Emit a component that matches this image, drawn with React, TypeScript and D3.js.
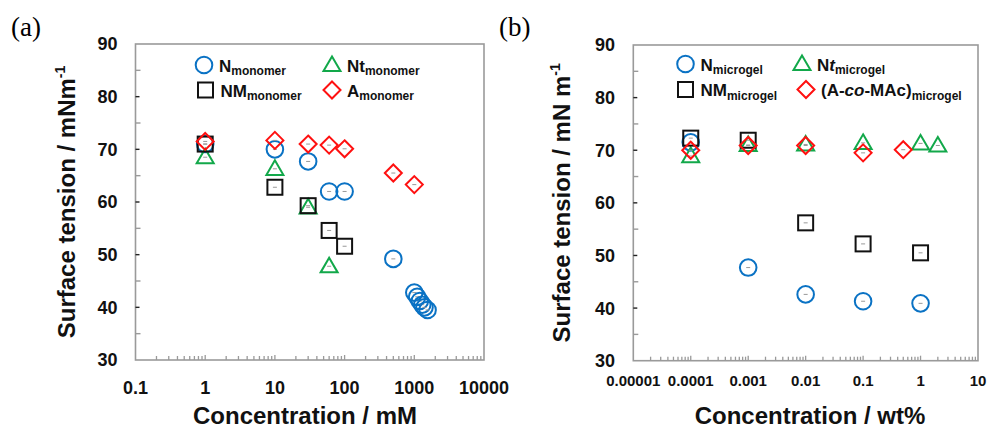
import React from "react";
import * as d3 from "d3";

// ---- panel (a) data: concentration in mM, surface tension in mN/m ----
const nMonoConc = [1, 10, 30, 60, 100, 500, 1000, 1100, 1200, 1300, 1400, 1550];
const nMonoST = [71.0, 70.0, 67.7, 62.0, 62.0, 49.2, 42.8, 42.0, 41.2, 40.5, 40.0, 39.5];
const ntMonoConc = [1, 10, 30, 60];
const ntMonoST = [68.5, 66.3, 59.0, 47.8];
const nmMonoConc = [1, 10, 30, 60, 100];
const nmMonoST = [71.0, 62.8, 59.3, 54.6, 51.6];
const aMonoConc = [1, 10, 30, 60, 100, 500, 1000];
const aMonoST = [71.5, 71.7, 71.0, 70.8, 70.1, 65.5, 63.3];

// ---- panel (b) data: concentration in wt%, surface tension in mN/m ----
const nGelConc = [0.0001, 0.001, 0.01, 0.1, 1];
const nGelST = [71.5, 47.7, 42.6, 41.3, 40.9];
const ntGelConc = [0.0001, 0.001, 0.01, 0.1, 1, 2];
const ntGelST = [68.9, 71.0, 71.1, 71.4, 71.3, 70.9];
const nmGelConc = [0.0001, 0.001, 0.01, 0.1, 1];
const nmGelST = [72.3, 71.9, 56.2, 52.2, 50.5];
const acoGelConc = [0.0001, 0.001, 0.01, 0.1, 0.5];
const acoGelST = [70.0, 70.9, 70.9, 69.5, 70.1];

const yTicks = [30, 40, 50, 60, 70, 80, 90];
const xTicksA = [0.1, 1, 10, 100, 1000, 10000];
const xLabelsA = ["0.1", "1", "10", "100", "1000", "10000"];
const xTicksB = [0.00001, 0.0001, 0.001, 0.01, 0.1, 1, 10];
const xLabelsB = ["0.00001", "0.0001", "0.001", "0.01", "0.1", "1", "10"];

const BLUE = "#0a72c4";
const GREEN = "#12a84a";
const RED = "#ff1010";
const BLACK = "#111";
const AXIS = "#9a9a9a";
const FONT = "'Liberation Sans', Arial, sans-serif";

type Shape = "circle" | "triangle" | "square" | "diamond";

const Marker = ({ shape, x, y, color }: { shape: Shape; x: number; y: number; color: string }) => {
  const sw = 2;
  if (shape === "circle")
    return <circle cx={x} cy={y} r={8.3} fill="none" stroke={color} strokeWidth={sw} />;
  if (shape === "square")
    return <rect x={x - 7.5} y={y - 7.5} width={15} height={15} fill="none" stroke={color} strokeWidth={sw} />;
  if (shape === "diamond") {
    const h = 8.5;
    return (
      <path d={`M${x},${y - h}L${x + h},${y}L${x},${y + h}L${x - h},${y}Z`} fill="none" stroke={color} strokeWidth={sw} />
    );
  }
  const s = 8.5;
  return (
    <path
      d={`M${x},${y - s}L${x + s},${y + s * 0.72}L${x - s},${y + s * 0.72}Z`}
      fill="none"
      stroke={color}
      strokeWidth={sw}
    />
  );
};

type Series = { conc: number[]; st: number[]; shape: Shape; color: string };

type LegendItem = { shape: Shape; color: string; x: number; y: number; label: React.ReactNode };

const Panel = ({
  tag,
  tagX,
  left,
  right,
  top,
  bottom,
  xDomain,
  xTicks,
  xLabels,
  xTickFont,
  xTickY,
  xTitle,
  xTitleX,
  yTitleX,
  yTitleUnit,
  yLabelX,
  series,
  legend,
}: {
  tag: string;
  tagX: number;
  left: number;
  right: number;
  top: number;
  bottom: number;
  xDomain: [number, number];
  xTicks: number[];
  xLabels: string[];
  xTickFont: number;
  xTickY: number;
  xTitle: string;
  xTitleX: number;
  yTitleX: number;
  yTitleUnit: string;
  yLabelX: number;
  series: Series[];
  legend: LegendItem[];
}) => {
  const x = d3.scaleLog().domain(xDomain).range([left, right]);
  const y = d3.scaleLinear().domain([30, 90]).range([bottom, top]);

  // minor log ticks 2..9 in every decade
  const minorX: number[] = [];
  for (let i = 0; i < xTicks.length - 1; i++) {
    for (let k = 2; k <= 9; k++) minorX.push(xTicks[i] * k);
  }
  const minorY = d3.range(35, 90, 10);

  return (
    <g>
      <text x={tagX} y={36} fontFamily="'Liberation Serif', serif" fontSize={27}>
        {tag}
      </text>
      {/* frame */}
      <rect x={left} y={top} width={right - left} height={bottom - top} fill="none" stroke={AXIS} strokeWidth={1.6} />
      {/* y ticks */}
      {yTicks.slice(1, -1).map((t) => (
        <line key={"ym" + t} x1={left} x2={left + 4} y1={y(t)} y2={y(t)} stroke="#222" strokeWidth={1.4} />
      ))}
      {minorY.map((t) => (
        <line key={"yn" + t} x1={left} x2={left + 5} y1={y(t)} y2={y(t)} stroke={AXIS} strokeWidth={1.4} />
      ))}
      {yTicks.map((t) => (
        <text
          key={"yl" + t}
          x={yLabelX}
          y={y(t)}
          dy="0.36em"
          textAnchor="end"
          fontFamily={FONT}
          fontWeight="bold"
          fontSize={18}
          fill="#111"
        >
          {t}
        </text>
      ))}
      {/* x ticks */}
      {minorX.map((t, i) => (
        <line key={"xn" + i} x1={x(t)} x2={x(t)} y1={bottom} y2={bottom - 4} stroke={AXIS} strokeWidth={1.3} />
      ))}
      {xTicks.slice(1, -1).map((t) => (
        <line key={"xm" + t} x1={x(t)} x2={x(t)} y1={bottom} y2={bottom - 5} stroke={AXIS} strokeWidth={1.3} />
      ))}
      {xTicks.map((t, i) => (
        <text
          key={"xl" + i}
          x={x(t)}
          y={xTickY}
          textAnchor="middle"
          fontFamily={FONT}
          fontWeight="bold"
          fontSize={xTickFont}
          fill="#111"
        >
          {xLabels[i]}
        </text>
      ))}
      {/* titles */}
      <text x={xTitleX} y={424} textAnchor="middle" fontFamily={FONT} fontWeight="bold" fontSize={24} fill="#111">
        {xTitle}
      </text>
      <text
        transform={`translate(${yTitleX},${(top + bottom) / 2}) rotate(-90)`}
        textAnchor="middle"
        fontFamily={FONT}
        fontWeight="bold"
        fontSize={24}
        fill="#111"
      >
        {"Surface tension / " + yTitleUnit}
        <tspan fontSize={14} dy={-10}>
          -1
        </tspan>
      </text>
      {/* data */}
      {series.map((s, si) =>
        s.conc.map((c, i) => (
          <g key={si + "-" + i}>
            <Marker shape={s.shape} x={x(c)} y={y(s.st[i])} color={s.color} />
            <line x1={x(c) - 2} x2={x(c) + 2} y1={y(s.st[i])} y2={y(s.st[i])} stroke="#999" strokeWidth={1} />
          </g>
        ))
      )}
      {/* legend */}
      {legend.map((l, i) => (
        <g key={"lg" + i}>
          <Marker shape={l.shape} x={l.x} y={l.y} color={l.color} />
          <text x={l.x + 15} y={l.y + 6.5} fontFamily={FONT} fontWeight="bold" fontSize={17} fill="#111">
            {l.label}
          </text>
        </g>
      ))}
    </g>
  );
};

const Sub = ({ children }: { children: React.ReactNode }) => (
  <tspan fontSize={12} dy={3.5}>
    {children}
  </tspan>
);

export default function App() {
  const seriesA: Series[] = [
    { conc: nMonoConc, st: nMonoST, shape: "circle", color: BLUE },
    { conc: ntMonoConc, st: ntMonoST, shape: "triangle", color: GREEN },
    { conc: nmMonoConc, st: nmMonoST, shape: "square", color: BLACK },
    { conc: aMonoConc, st: aMonoST, shape: "diamond", color: RED },
  ];
  const seriesB: Series[] = [
    { conc: nGelConc, st: nGelST, shape: "circle", color: BLUE },
    { conc: ntGelConc, st: ntGelST, shape: "triangle", color: GREEN },
    { conc: nmGelConc, st: nmGelST, shape: "square", color: BLACK },
    { conc: acoGelConc, st: acoGelST, shape: "diamond", color: RED },
  ];
  const legendA: LegendItem[] = [
    { shape: "circle", color: BLUE, x: 204, y: 65, label: <>N<Sub>monomer</Sub></> },
    { shape: "triangle", color: GREEN, x: 332, y: 65, label: <>Nt<Sub>monomer</Sub></> },
    { shape: "square", color: BLACK, x: 205.5, y: 90, label: <>NM<Sub>monomer</Sub></> },
    { shape: "diamond", color: RED, x: 332, y: 90, label: <>A<Sub>monomer</Sub></> },
  ];
  const legendB: LegendItem[] = [
    { shape: "circle", color: BLUE, x: 685.5, y: 64, label: <>N<Sub>microgel</Sub></> },
    {
      shape: "triangle",
      color: GREEN,
      x: 802,
      y: 64,
      label: (
        <>
          N<tspan fontStyle="italic">t</tspan>
          <Sub>microgel</Sub>
        </>
      ),
    },
    { shape: "square", color: BLACK, x: 685.5, y: 89.5, label: <>NM<Sub>microgel</Sub></> },
    {
      shape: "diamond",
      color: RED,
      x: 806,
      y: 89.5,
      label: (
        <>
          (A-<tspan fontStyle="italic">co</tspan>-MAc)
          <Sub>microgel</Sub>
        </>
      ),
    },
  ];

  return (
    <svg width={988} height={428} style={{ position: "absolute", left: 0, top: 0, background: "#fff" }}>
      <Panel
        tag="(a)"
        tagX={11}
        left={135.5}
        right={484}
        top={44}
        bottom={360}
        xDomain={[0.1, 10000]}
        xTicks={xTicksA}
        xLabels={xLabelsA}
        xTickFont={18}
        xTickY={394}
        xTitle="Concentration / mM"
        xTitleX={305}
        yTitleX={75}
        yTitleUnit="mNm"
        yLabelX={117.5}
        series={seriesA}
        legend={legendA}
      />
      <Panel
        tag="(b)"
        tagX={499}
        left={633.3}
        right={978}
        top={45}
        bottom={360.7}
        xDomain={[0.00001, 10]}
        xTicks={xTicksB}
        xLabels={xLabelsB}
        xTickFont={15}
        xTickY={386}
        xTitle="Concentration / wt%"
        xTitleX={810}
        yTitleX={570}
        yTitleUnit="mN m"
        yLabelX={615}
        series={seriesB}
        legend={legendB}
      />
    </svg>
  );
}
